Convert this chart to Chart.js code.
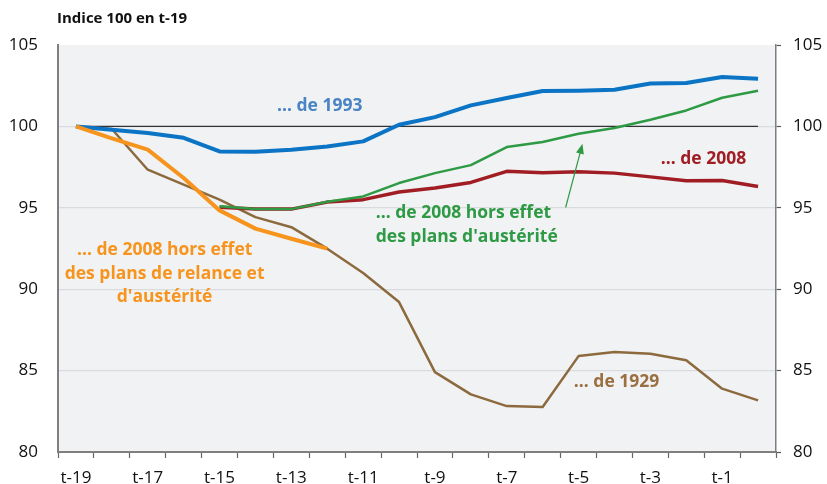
<!DOCTYPE html>
<html>
<head>
<meta charset="utf-8">
<script src="https://cdn.jsdelivr.net/npm/chart.js@4/dist/chart.umd.min.js"></script>
<style>
  body { margin: 0; background: #fff; }
  #wrap { width: 827px; height: 484px; }
</style>
</head>
<body>
<div id="wrap"><canvas id="chart" width="827" height="484"></canvas></div>
<script>
// periods t-19 ... t0
const periods = ['t-19', 't-18', 't-17', 't-16', 't-15', 't-14', 't-13', 't-12', 't-11', 't-10',
                 't-9', 't-8', 't-7', 't-6', 't-5', 't-4', 't-3', 't-2', 't-1', 't0'];

const crisis1993 = [100, 99.8, 99.6, 99.3, 98.46, 98.45, 98.57, 98.77, 99.08, 100.1,
                    100.57, 101.29, 101.74, 102.17, 102.19, 102.25, 102.64, 102.66, 103.03, 102.93];
const crisis2008 = [null, null, null, null, 95.04, 94.92, 94.92, 95.35, 95.5, 95.97,
                    96.21, 96.56, 97.24, 97.16, 97.22, 97.13, 96.9, 96.66, 96.68, 96.31];
const noAusterity2008 = [null, null, null, null, 95.1, 94.92, 94.92, 95.37, 95.7, 96.52,
                         97.13, 97.62, 98.73, 99.04, 99.55, 99.9, 100.41, 100.98, 101.76, 102.19];
const noStimulus2008 = [100, 99.27, 98.57, 96.83, 94.84, 93.72, 93.1, 92.49];
const crisis1929 = [100, 99.84, 97.34, 96.42, 95.5, 94.43, 93.81, 92.49, 90.99, 89.21,
                    84.91, 83.54, 82.82, 82.76, 85.89, 86.14, 86.04, 85.63, 83.89, 83.17];
const baseLine = [100, 100, 100, 100, 100, 100, 100, 100, 100, 100,
                  100, 100, 100, 100, 100, 100, 100, 100, 100, 100];

const yTicks = [80, 85, 90, 95, 100, 105];

// annotations anchored on the scales (x = period index, y = index value)
const labels = [
  { lines: ['… de 1993'], x: 6.79, y: 101.25, color: '#4a84c4', align: 'center' },
  { lines: ['… de 2008'], x: 17.48, y: 98.02, color: '#a11d24', align: 'center' },
  { lines: ['… de 2008 hors effet', 'des plans d\'austérité'], x: 8.35, y: 94.66, color: '#2e9a44', align: 'left' },
  { lines: ['… de 2008 hors effet', 'des plans de relance et', 'd\'austérité'], x: 2.47, y: 92.38, color: '#f7941d', align: 'center' },
  { lines: ['… de 1929'], x: 15.06, y: 84.27, color: '#9a7040', align: 'center' }
];
const arrowFrom = { x: 13.64, y: 95.02 };
const arrowTo = { x: 14.11, y: 98.93 };

const FONT = '"Open Sans", "DejaVu Sans", sans-serif';

const decor = {
  id: 'decor',
  beforeDraw(chart) {
    const { ctx, chartArea: a } = chart;
    ctx.save();
    ctx.fillStyle = '#f0f2f4';
    ctx.fillRect(a.left, a.top, a.right - a.left, a.bottom - a.top);
    ctx.restore();
  },
  afterDraw(chart) {
    const { ctx, chartArea: a } = chart;
    const xs = chart.scales.x, ys = chart.scales.y;
    ctx.save();
    // title
    ctx.fillStyle = '#111';
    ctx.font = 'bold 15px ' + FONT;
    ctx.textAlign = 'left';
    ctx.textBaseline = 'middle';
    ctx.fillText('Indice 100 en t-19', a.left - 1, 19);

    // series labels
    ctx.font = 'bold 17.5px ' + FONT;
    labels.forEach(l => {
      const px = xs.getPixelForValue(l.x);
      let py = ys.getPixelForValue(l.y);
      ctx.fillStyle = l.color;
      ctx.textAlign = l.align;
      l.lines.forEach(t => {
        ctx.fillText(t, px, py);
        py += 23.5;
      });
    });

    // arrow
    const x1 = xs.getPixelForValue(arrowFrom.x), y1 = ys.getPixelForValue(arrowFrom.y);
    const x2 = xs.getPixelForValue(arrowTo.x), y2 = ys.getPixelForValue(arrowTo.y);
    const ang = Math.atan2(y2 - y1, x2 - x1);
    ctx.strokeStyle = '#2e9a44';
    ctx.fillStyle = '#2e9a44';
    ctx.lineWidth = 1.2;
    ctx.beginPath();
    ctx.moveTo(x1, y1);
    ctx.lineTo(x2 - 8 * Math.cos(ang), y2 - 8 * Math.sin(ang));
    ctx.stroke();
    ctx.beginPath();
    ctx.moveTo(x2, y2);
    ctx.lineTo(x2 - 10 * Math.cos(ang) + 4 * Math.sin(ang), y2 - 10 * Math.sin(ang) - 4 * Math.cos(ang));
    ctx.lineTo(x2 - 10 * Math.cos(ang) - 4 * Math.sin(ang), y2 - 10 * Math.sin(ang) + 4 * Math.cos(ang));
    ctx.closePath();
    ctx.fill();
    ctx.restore();
  }
};

function line(data, color, width, order) {
  return {
    data: data,
    borderColor: color,
    borderWidth: width,
    pointRadius: 0,
    tension: 0,
    fill: false,
    spanGaps: false,
    borderJoinStyle: 'round',
    order: order
  };
}

new Chart(document.getElementById('chart'), {
  type: 'line',
  data: {
    labels: periods,
    datasets: [
      line(baseLine, '#333333', 1.3, 9),
      line(crisis1929, '#8d6a3e', 2.5, 6),
      line(crisis2008, '#a11d24', 3.5, 5),
      line(noAusterity2008, '#2e9a44', 2.5, 4),
      line(crisis1993, '#0b74c4', 4, 3),
      line(noStimulus2008, '#f7941d', 4, 2)
    ]
  },
  options: {
    responsive: false,
    animation: false,
    layout: { padding: { top: 45, left: 0, right: 0, bottom: 0 } },
    plugins: {
      legend: { display: false },
      tooltip: { enabled: false }
    },
    scales: {
      x: {
        offset: true,
        grid: {
          offset: true,
          drawOnChartArea: false,
          tickLength: 6,
          tickColor: '#666',
          tickWidth: 1.2
        },
        border: { color: '#7f7f7f', width: 2 },
        ticks: {
          autoSkip: false,
          maxRotation: 0,
          padding: 10,
          color: '#111',
          font: { family: FONT, size: 17 },
          callback: (v, i) => i % 2 === 0 ? periods[i] : ''
        },
        afterFit: s => { s.height = 32; }
      },
      y: {
        position: 'left',
        min: 80,
        max: 105,
        afterBuildTicks: s => { s.ticks = yTicks.map(v => ({ value: v })); },
        grid: {
          drawTicks: false,
          color: c => (c.tick.value === 80 || c.tick.value === 105) ? 'rgba(0,0,0,0)' : '#d9dcdf',
          lineWidth: 1.2
        },
        border: { color: '#7f7f7f', width: 2 },
        ticks: {
          padding: 20,
          color: '#111',
          font: { family: FONT, size: 17 }
        },
        afterFit: s => { s.width = 58; }
      },
      y2: {
        position: 'right',
        min: 80,
        max: 105,
        afterBuildTicks: s => { s.ticks = yTicks.map(v => ({ value: v })); },
        grid: {
          drawOnChartArea: false,
          tickLength: 5,
          tickColor: '#555',
          tickWidth: 1.2
        },
        border: { color: '#7f7f7f', width: 1.5 },
        ticks: {
          padding: 12,
          color: '#111',
          font: { family: FONT, size: 17 }
        },
        afterFit: s => { s.width = 51; }
      }
    }
  },
  plugins: [decor]
});
</script>
</body>
</html>
